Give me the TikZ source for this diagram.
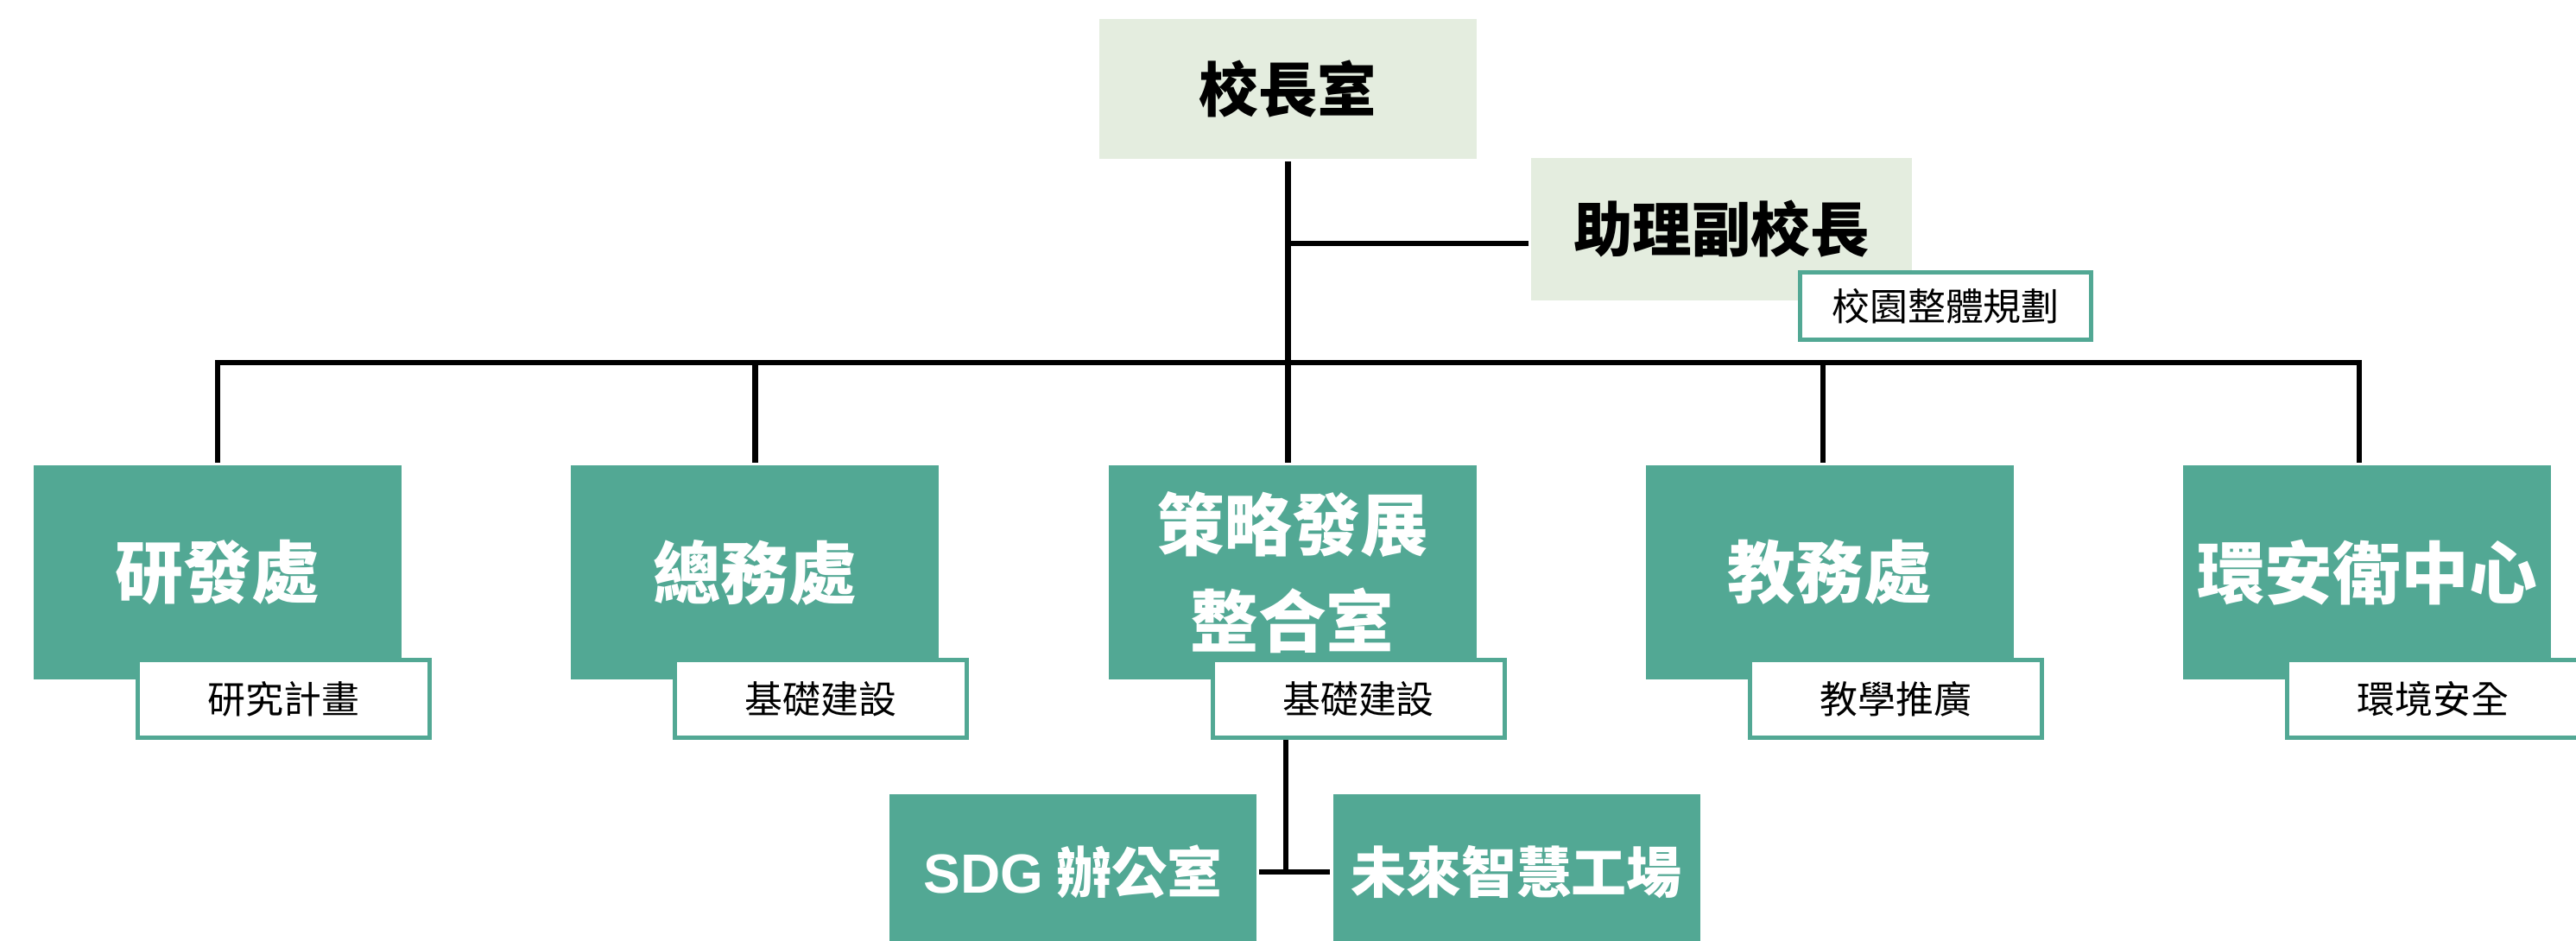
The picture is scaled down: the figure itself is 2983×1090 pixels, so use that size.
\documentclass[tikz,border=0pt]{standalone}
\usepackage{fontspec}
\setmainfont{Noto Sans CJK TC}
\newfontfamily\latinsans{Liberation Sans}
\definecolor{orgteal}{RGB}{82,168,148}
\definecolor{orgpale}{RGB}{228,237,223}

\begin{document}
\begin{tikzpicture}[
        x=0.2mm, y=-0.2mm,
        line width=1.3mm,
        head/.style={fill=orgpale, inner sep=0pt, font=\fontsize{39}{47}\selectfont\bfseries},
        dept/.style={fill=orgteal, text=white, inner sep=0pt, align=center,
            minimum width=85.2mm, minimum height=49.6mm, font=\fontsize{44.8}{64}\selectfont\bfseries},
        task/.style={draw=orgteal, line width=1mm, fill=white, inner sep=0pt,
            minimum width=67.6mm, minimum height=18mm, font=\fontsize{25}{30}\selectfont},
        unit/.style={fill=orgteal, text=white, inner sep=0pt,
            minimum width=85mm, minimum height=36mm, font=\fontsize{36.4}{44}\selectfont\bfseries}
    ]
    \useasboundingbox (0,0) rectangle (2983,1090);

    % top level
    \node[head, minimum width=87.4mm, minimum height=32.4mm] (root) at (1491.5,103) {校長室};
    \node[head, minimum width=88.2mm, minimum height=33mm] (vp) at (1993.5,265.5) {助理副校長};
    \node[task, minimum width=67.4mm, minimum height=15.6mm] (vpt) at (2253,354.5) {校園整體規劃};

    % departments
    \node[dept] (d1) at (252,663) {研發處};
    \node[dept] (d2) at (874.25,663) {總務處};
    \node[dept] (d3) at (1496.5,663) {策略發展\\整合室};
    \node[dept] (d4) at (2118.75,663) {教務處};
    \node[dept] (d5) at (2741,663) {環安衛中心};

    \node[task] (s1) at (328.5,809.5) {研究計畫};
    \node[task] (s2) at (950.75,809.5) {基礎建設};
    \node[task] (s3) at (1573,809.5) {基礎建設};
    \node[task] (s4) at (2195.25,809.5) {教學推廣};
    \node[task] (s5) at (2817.5,809.5) {環境安全};

    % under the strategy office
    \node[unit] (sdg) at (1242.5,1010) {{\latinsans SDG} 辦公室};
    \node[unit] (fut) at (1756,1010) {未來智慧工場};

    % connectors
    \coordinate (bus) at (1494,420);
    \coordinate (br) at (1494,282);
    \coordinate (jn) at (1489,1010);
    \coordinate (t4) at ([xshift=-1.55mm]d4.north);
    \coordinate (t5) at ([xshift=-1.8mm]d5.north);
    \draw (root.south) -- (root.south |- d3.north);
    \draw (br) -- (br -| vp.west);
    \draw (d1.north) |- (bus -| t5) -- (t5);
    \draw (d2.north) -- (d2.north |- bus);
    \draw (t4) -- (t4 |- bus);
    \draw (s3.south -| jn) -- (jn);
    \draw (sdg.east) -- (fut.west);
\end{tikzpicture}
\end{document}
